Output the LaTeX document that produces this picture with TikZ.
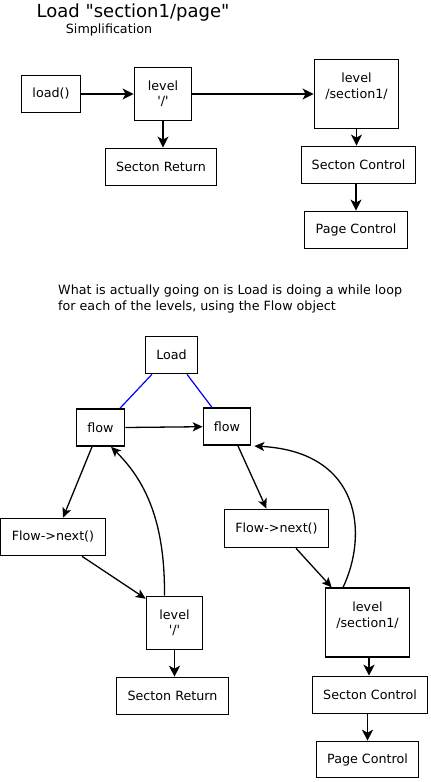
\documentclass[tikz,border=0pt]{standalone}
\usepackage{fontspec}
\setmainfont{DejaVu Sans}
\usepackage{tikz}
\usetikzlibrary{positioning,arrows.meta}

\begin{document}
\begin{tikzpicture}[x=1pt,y=-1pt,font=\fontsize{12.7}{15}\selectfont,
  >={Stealth[length=11pt,width=11pt,inset=3pt]},
  box/.style={draw,line width=1.8pt,align=center,inner sep=0pt},
  flw/.style={->,line width=1.8pt},
  thn/.style={->,line width=1.3pt,>={Stealth[length=10pt,width=9pt,inset=2.5pt]}},
  lnk/.style={draw=blue,line width=1.2pt},
  txt/.style={inner sep=0pt}]
  \useasboundingbox (0,0) rectangle (431,782);
  % simplification
  \node[txt,font=\fontsize{18}{20}\selectfont] (title) at (133,13) {Load \textquotedbl section1/page\textquotedbl};
  \node[txt] (simp) at (109,30) {Simplification};
  \node[box,minimum width=59,minimum height=37] (load) at (51,94) {load()};
  \node[box,minimum width=57,minimum height=53] (lvlA) at (163,94) {level\\\textquotesingle/\textquotesingle};
  \node[box,minimum width=84,minimum height=69,font=\fontsize{12.7}{16}\selectfont] (secA) at (356.5,94) {level\\/section1/\\ };
  \node[box,minimum width=111,minimum height=37] (retA) at (161,167) {Secton Return};
  \node[box,minimum width=114,minimum height=37] (ctlA) at (358.5,165) {Secton Control};
  \node[box,minimum width=103,minimum height=37] (pgA) at (356,230) {Page Control};
  \draw[flw] (load) -- (lvlA);
  \draw[flw] (lvlA) -- (secA);
  \draw[flw] (lvlA.south) -- (lvlA.south |- retA.north);
  \draw[flw] (secA.south) -- (secA.south |- ctlA.north);
  \draw[flw] (pgA.north |- ctlA.south) -- (pgA.north);
  % what really happens
  \node[txt,anchor=west,align=left,font=\fontsize{12.7}{16}\selectfont] (note) at (58,298.6)
    {What is actually going on is Load is doing a while loop\\for each of the levels, using the Flow object};
  \node[box,line width=1.6pt,minimum width=52,minimum height=37] (loadB) at (171.5,355) {Load};
  \node[box,line width=1.6pt,minimum width=48,minimum height=37] (flowL) at (100.5,427.5) {flow};
  \node[box,line width=1.6pt,minimum width=47,minimum height=37] (flowR) at (227,426.7) {flow};
  \node[box,line width=1.6pt,minimum width=105,minimum height=37] (nextL) at (53,537) {Flow->next()};
  \node[box,line width=1.6pt,minimum width=104,minimum height=38] (nextR) at (276.5,528.5) {Flow->next()};
  \node[box,line width=1.6pt,minimum width=56,minimum height=53] (lvlB) at (174.5,623) {level\\\textquotesingle/\textquotesingle};
  \node[box,line width=1.6pt,minimum width=112,minimum height=37] (retB) at (172.5,696) {Secton Return};
  \node[box,line width=1.6pt,minimum width=84,minimum height=69,font=\fontsize{12.7}{16}\selectfont] (secB) at (367.5,622.7) {level\\/section1/\\ };
  \node[box,line width=1.6pt,minimum width=115,minimum height=37] (ctlB) at (370,695) {Secton Control};
  \node[box,line width=1.6pt,minimum width=102,minimum height=36] (pgB) at (367.5,759.5) {Page Control};
  \draw[lnk] ([xshift=-19.5]loadB.south) -- ([xshift=19.5]flowL.north);
  \draw[lnk] ([xshift=15.5]loadB.south) -- ([xshift=-15]flowR.north);
  \draw[thn] (flowL.east) -- (flowR.west);
  \draw[thn] ([xshift=-8.5]flowL.south) -- ([xshift=10]nextL.north);
  \draw[thn] ([xshift=29]nextL.south) -- ([yshift=-3]lvlB.north west);
  \draw[thn] ([xshift=-10]lvlB.north) .. controls (165,530) and (150,485) .. ([xshift=10.5]flowL.south);
  \draw[flw] (lvlB.south) -- (lvlB.south |- retB.north);
  \draw[thn] ([xshift=11]flowR.south) -- ([xshift=-10]nextR.north);
  \draw[thn] ([xshift=19.5]nextR.south) -- ([xshift=7]secB.north west);
  \draw[thn] ([xshift=-24.5]secB.north) .. controls (368,535) and (362,452) .. ([xshift=3]flowR.south east);
  \draw[flw] (secB.south -| ctlB.north) ++(-1,0) -- ([xshift=-1]ctlB.north);
  \draw[flw] (pgB.north |- ctlB.south) -- (pgB.north);
\end{tikzpicture}
\end{document}
